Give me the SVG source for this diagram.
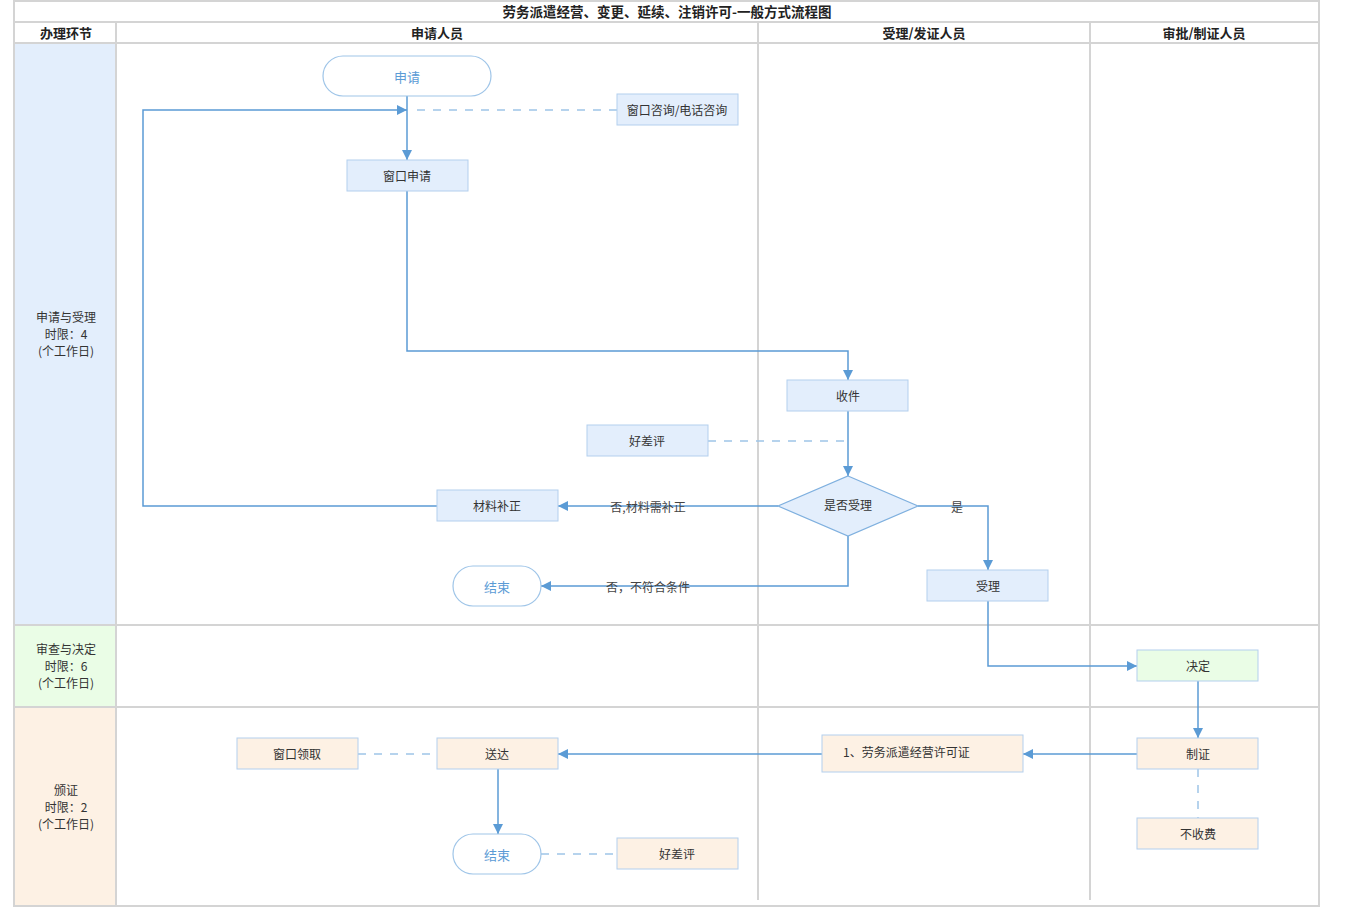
<svg xmlns="http://www.w3.org/2000/svg" width="1350" height="907" viewBox="0 0 1350 907">
<style>
text{font-family:"Noto Sans CJK SC","Liberation Sans",sans-serif;font-size:12px;fill:#333;text-anchor:middle;dominant-baseline:central}
.hd{font-size:13px;font-weight:bold;fill:#222}
.ttl{font-size:13.5px;font-weight:bold;fill:#222}
.grid{stroke:#d4d4d4;stroke-width:2;fill:none}
.blue{fill:#e3eefc;stroke:#b3cfee;stroke-width:1}
.green{fill:#eafde6;stroke:#b3cfee;stroke-width:1}
.orange{fill:#fdf1e4;stroke:#b3cfee;stroke-width:1}
.term{fill:#fff;stroke:#9fc5e8;stroke-width:1.2}
.tt{fill:#5b9bd5;font-size:13px}
.ln{stroke:#5b9bd5;stroke-width:1.5;fill:none}
.ds{stroke:#9fc5e8;stroke-width:1.5;fill:none;stroke-dasharray:8,8}
.lab{fill:#444}
</style>
<defs>
<marker id="ah" viewBox="0 0 10 10" refX="10" refY="5" markerWidth="10" markerHeight="10" markerUnits="userSpaceOnUse" orient="auto">
<path d="M0,0 L10,5 L0,10 z" fill="#5b9bd5"/>
</marker>
</defs>
<g id="lanes">
<rect x="15" y="44" width="101" height="581" fill="#e3eefc"/>
<rect x="15" y="626" width="101" height="81" fill="#eafde6"/>
<rect x="15" y="708" width="101" height="198" fill="#fdf1e4"/>
<rect class="grid" x="14" y="1" width="1305" height="905"/>
<line class="grid" x1="14" y1="22" x2="1319" y2="22"/>
<line class="grid" x1="14" y1="43" x2="1319" y2="43"/>
<line class="grid" x1="14" y1="625" x2="1319" y2="625"/>
<line class="grid" x1="14" y1="707" x2="1319" y2="707"/>
<line class="grid" x1="116" y1="22" x2="116" y2="906"/>
<line class="grid" x1="758" y1="22" x2="758" y2="900" stroke="#e2e2e2"/>
<line class="grid" x1="1090" y1="22" x2="1090" y2="900" stroke="#e2e2e2"/>
<text class="ttl" x="667" y="11">劳务派遣经营、变更、延续、注销许可-一般方式流程图</text>
<text class="hd" x="66" y="32">办理环节</text>
<text class="hd" x="437" y="32">申请人员</text>
<text class="hd" x="924" y="32">受理/发证人员</text>
<text class="hd" x="1204" y="32">审批/制证人员</text>
<text x="66" y="316">申请与受理</text>
<text x="66" y="333">时限：4</text>
<text x="66" y="350">(个工作日)</text>
<text x="66" y="648">审查与决定</text>
<text x="66" y="665">时限：6</text>
<text x="66" y="682">(个工作日)</text>
<text x="66" y="789">颁证</text>
<text x="66" y="806">时限：2</text>
<text x="66" y="823">(个工作日)</text>
</g>
<g id="connectors">
<line class="ln" x1="407" y1="96" x2="407" y2="160" marker-end="url(#ah)"/>
<line class="ds" x1="617" y1="110" x2="409" y2="110"/>
<polyline class="ln" points="437,506 143,506 143,110 407,110" marker-end="url(#ah)"/>
<polyline class="ln" points="407,191 407,351 848,351 848,380" marker-end="url(#ah)"/>
<line class="ln" x1="848" y1="411" x2="848" y2="476" marker-end="url(#ah)"/>
<line class="ds" x1="708" y1="441" x2="848" y2="441"/>
<line class="ln" x1="778" y1="506" x2="558" y2="506" marker-end="url(#ah)"/>
<polyline class="ln" points="848,536 848,586 541,586" marker-end="url(#ah)"/>
<polyline class="ln" points="918,506 988,506 988,570" marker-end="url(#ah)"/>
<polyline class="ln" points="988,601 988,666 1137,666" marker-end="url(#ah)"/>
<line class="ln" x1="1198" y1="681" x2="1198" y2="738" marker-end="url(#ah)"/>
<line class="ln" x1="1137" y1="754" x2="1023" y2="754" marker-end="url(#ah)"/>
<line class="ln" x1="822" y1="754" x2="558" y2="754" marker-end="url(#ah)"/>
<line class="ds" x1="358" y1="754" x2="437" y2="754"/>
<line class="ln" x1="498" y1="769" x2="498" y2="834" marker-end="url(#ah)"/>
<line class="ds" x1="541" y1="854" x2="617" y2="854"/>
<line class="ds" x1="1198" y1="769" x2="1198" y2="818"/>
<text class="lab" x="648" y="506">否,材料需补正</text>
<text class="lab" x="648" y="586">否，不符合条件</text>
<text class="lab" x="957" y="506">是</text>
</g>
<g id="n-apply"><rect class="term" x="323" y="56" width="168" height="40" rx="20"/><text class="tt" x="407" y="76">申请</text></g>
<g id="n-consult"><rect class="blue" x="617" y="94" width="121" height="31"/><text x="677" y="109">窗口咨询/电话咨询</text></g>
<g id="n-window"><rect class="blue" x="347" y="160" width="121" height="31"/><text x="407" y="175">窗口申请</text></g>
<g id="n-receive"><rect class="blue" x="787" y="380" width="121" height="31"/><text x="848" y="395">收件</text></g>
<g id="n-eval1"><rect class="blue" x="587" y="425" width="121" height="31"/><text x="647" y="440">好差评</text></g>
<g id="n-decide"><polygon points="848,476 918,506 848,536 778,506" fill="#e3eefc" stroke="#7fb0df" stroke-width="1.2"/><text x="848" y="504">是否受理</text></g>
<g id="n-supplement"><rect class="blue" x="437" y="490" width="121" height="31"/><text x="497" y="505">材料补正</text></g>
<g id="n-end1"><rect class="term" x="453" y="566" width="88" height="40" rx="20"/><text class="tt" x="497" y="586">结束</text></g>
<g id="n-accept"><rect class="blue" x="927" y="570" width="121" height="31"/><text x="988" y="585">受理</text></g>
<g id="n-decision"><rect class="green" x="1137" y="650" width="121" height="31"/><text x="1198" y="665">决定</text></g>
<g id="n-make"><rect class="orange" x="1137" y="738" width="121" height="31"/><text x="1198" y="753">制证</text></g>
<g id="n-free"><rect class="orange" x="1137" y="818" width="121" height="31"/><text x="1198" y="833">不收费</text></g>
<g id="n-license"><rect class="orange" x="822" y="735" width="201" height="37"/><text x="843" y="751" style="text-anchor:start">1、劳务派遣经营许可证</text></g>
<g id="n-deliver"><rect class="orange" x="437" y="738" width="121" height="31"/><text x="497" y="753">送达</text></g>
<g id="n-pickup"><rect class="orange" x="237" y="738" width="121" height="31"/><text x="297" y="753">窗口领取</text></g>
<g id="n-end2"><rect class="term" x="453" y="834" width="88" height="40" rx="20"/><text class="tt" x="497" y="854">结束</text></g>
<g id="n-eval2"><rect class="orange" x="617" y="838" width="121" height="31"/><text x="677" y="853">好差评</text></g>
</svg>
